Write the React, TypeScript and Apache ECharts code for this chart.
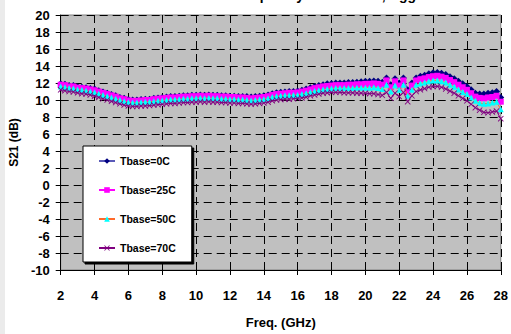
import React, { useEffect, useRef } from "react";
import * as echarts from "echarts";

const FREQ_GHZ = [
  2, 2.25, 2.5, 2.75, 3, 3.25, 3.5, 3.75, 4, 4.25, 4.5, 4.75, 5, 5.25, 5.5, 5.75,
  6, 6.25, 6.5, 6.75, 7, 7.25, 7.5, 7.75, 8, 8.25, 8.5, 8.75, 9, 9.25, 9.5, 9.75,
  10, 10.25, 10.5, 10.75, 11, 11.25, 11.5, 11.75, 12, 12.25, 12.5, 12.75, 13, 13.25, 13.5, 13.75,
  14, 14.25, 14.5, 14.75, 15, 15.25, 15.5, 15.75, 16, 16.25, 16.5, 16.75, 17, 17.25, 17.5, 17.75,
  18, 18.25, 18.5, 18.75, 19, 19.25, 19.5, 19.75, 20, 20.25, 20.5, 20.75, 21, 21.25, 21.5, 21.75,
  22, 22.25, 22.5, 22.75, 23, 23.25, 23.5, 23.75, 24, 24.25, 24.5, 24.75, 25, 25.25, 25.5, 25.75,
  26, 26.25, 26.5, 26.75, 27, 27.25, 27.5, 27.75, 28,
];

const S21_T0 = [
  11.9, 11.85, 11.7, 11.7, 11.55, 11.5, 11.45, 11.35, 11.3, 11.1, 10.95, 10.8, 10.65, 10.5, 10.3, 10.2,
  10.05, 10.0, 10.0, 10.05, 10.1, 10.1, 10.2, 10.25, 10.3, 10.35, 10.4, 10.4, 10.45, 10.5, 10.5, 10.55,
  10.55, 10.6, 10.55, 10.6, 10.55, 10.55, 10.5, 10.5, 10.45, 10.45, 10.4, 10.4, 10.4, 10.35, 10.4, 10.45,
  10.5, 10.6, 10.75, 10.85, 10.9, 10.95, 11.0, 11.0, 11.05, 11.15, 11.3, 11.45, 11.6, 11.7, 11.8, 11.9,
  11.95, 12.0, 12.0, 12.0, 12.05, 12.05, 12.1, 12.15, 12.2, 12.2, 12.25, 12.2, 12.1, 12.6, 11.8, 12.5,
  12.0, 12.6, 11.2, 12.0, 12.6, 12.8, 12.9, 13.1, 13.2, 13.25, 13.15, 13.0, 12.75, 12.5, 12.2, 11.9,
  11.6, 11.2, 10.8, 10.7, 10.7, 10.8, 10.85, 11.0, 10.3,
];

const S21_T25 = [
  11.8, 11.75, 11.6, 11.6, 11.45, 11.4, 11.35, 11.25, 11.15, 11.0, 10.85, 10.7, 10.55, 10.4, 10.2, 10.1,
  9.95, 9.9, 9.9, 9.95, 10.0, 10.0, 10.1, 10.15, 10.2, 10.25, 10.3, 10.3, 10.35, 10.4, 10.4, 10.45,
  10.45, 10.5, 10.45, 10.5, 10.45, 10.45, 10.4, 10.4, 10.35, 10.35, 10.3, 10.3, 10.25, 10.2, 10.25, 10.3,
  10.35, 10.45, 10.6, 10.7, 10.75, 10.8, 10.85, 10.85, 10.9, 11.0, 11.1, 11.25, 11.4, 11.5, 11.6, 11.65,
  11.7, 11.75, 11.75, 11.75, 11.8, 11.8, 11.85, 11.85, 11.9, 11.9, 11.95, 11.9, 11.8, 12.3, 11.5, 12.2,
  11.7, 12.3, 10.9, 11.7, 12.3, 12.45, 12.55, 12.7, 12.8, 12.85, 12.75, 12.6, 12.35, 12.1, 11.8, 11.5,
  11.2, 10.8, 10.4, 10.25, 10.2, 10.3, 10.35, 10.5, 9.8,
];

const S21_T50 = [
  11.6, 11.5, 11.4, 11.35, 11.25, 11.2, 11.1, 11.0, 10.9, 10.75, 10.6, 10.45, 10.3, 10.15, 10.0, 9.85,
  9.75, 9.7, 9.7, 9.75, 9.8, 9.8, 9.85, 9.9, 9.95, 10.0, 10.05, 10.05, 10.1, 10.15, 10.15, 10.2,
  10.2, 10.25, 10.2, 10.25, 10.2, 10.2, 10.15, 10.15, 10.1, 10.1, 10.05, 10.05, 10.0, 9.95, 10.0, 10.05,
  10.1, 10.2, 10.35, 10.45, 10.5, 10.55, 10.55, 10.6, 10.6, 10.7, 10.8, 10.95, 11.05, 11.15, 11.25, 11.3,
  11.35, 11.4, 11.4, 11.4, 11.4, 11.4, 11.45, 11.45, 11.45, 11.45, 11.5, 11.4, 11.3, 11.8, 11.0, 11.7,
  11.2, 11.8, 10.5, 11.2, 11.8, 11.95, 12.05, 12.2, 12.3, 12.3, 12.2, 12.05, 11.8, 11.55, 11.25, 10.95,
  10.7, 10.3, 9.9, 9.65, 9.55, 9.6, 9.7, 9.8, 8.9,
];

const S21_T70 = [
  11.2, 11.1, 11.0, 10.95, 10.85, 10.75, 10.7, 10.6, 10.45, 10.3, 10.15, 10.0, 9.85, 9.7, 9.55, 9.4,
  9.3, 9.25, 9.25, 9.3, 9.3, 9.35, 9.4, 9.45, 9.5, 9.55, 9.6, 9.6, 9.65, 9.7, 9.7, 9.75,
  9.75, 9.8, 9.75, 9.8, 9.75, 9.75, 9.7, 9.7, 9.65, 9.65, 9.6, 9.6, 9.55, 9.5, 9.55, 9.6,
  9.65, 9.75, 9.9, 10.0, 10.05, 10.1, 10.1, 10.15, 10.2, 10.25, 10.35, 10.5, 10.6, 10.7, 10.8, 10.85,
  10.9, 10.9, 10.9, 10.85, 10.85, 10.85, 10.8, 10.8, 10.8, 10.75, 10.75, 10.65, 10.55, 10.9, 10.2, 10.8,
  10.4, 10.9, 9.8, 10.5, 11.0, 11.2, 11.35, 11.5, 11.6, 11.6, 11.5, 11.3, 11.05, 10.8, 10.5, 10.2,
  9.9, 9.5, 9.1, 8.8, 8.55, 8.5, 8.6, 8.7, 7.8,
];

const SERIES_NAMES = ["Tbase=0C", "Tbase=25C", "Tbase=50C", "Tbase=70C"];
const TITLE_TEXT = "S21 vs. Frequency over Tbase, Vgg";
const X_AXIS_NAME = "Freq. (GHz)";
const Y_AXIS_NAME = "S21 (dB)";

const FONT = 'Arial, "Liberation Sans", sans-serif';
const X_MARK =
  "path://M0,1 L1,0 L5,4 L9,0 L10,1 L6,5 L10,9 L9,10 L5,6 L1,10 L0,9 L4,5 Z";

export default function App() {
  const ref = useRef<HTMLDivElement>(null);

  useEffect(() => {
    if (!ref.current) return;
    const chart = echarts.init(ref.current, undefined, { renderer: "svg" });
    const pairs = (vals: number[]) => FREQ_GHZ.map((f, i) => [f, vals[i]]);
    const styles = [
      { line: "#5a5ab8", item: "#000080", symbol: "diamond", size: 7 },
      { line: "#ff00ff", item: "#ff00ff", symbol: "rect", size: 6 },
      { line: "#ff6a2a", item: "#00ffff", symbol: "triangle", size: 6 },
      { line: "#800080", item: "#800080", symbol: X_MARK, size: 6 },
    ];
    const datas = [S21_T0, S21_T25, S21_T50, S21_T70];
    chart.setOption({
      animation: false,
      backgroundColor: "#ffffff",
      graphic: [
        { type: "rect", shape: { x: 0, y: 0, width: 5, height: 334 }, style: { fill: "#ebebeb" }, z: -10 },
        {
          type: "text",
          x: 416,
          y: 2,
          style: {
            text: TITLE_TEXT,
            font: `bold 14px ${FONT}`,
            fill: "#000",
            align: "right",
            verticalAlign: "bottom",
          },
        },
      ],
      grid: {
        left: 54,
        right: 8,
        top: 15,
        bottom: 59,
        show: true,
        backgroundColor: "#c0c0c0",
        borderColor: "#808080",
        borderWidth: 1,
      },
      legend: {
        orient: "vertical",
        left: 83,
        top: 146,
        data: SERIES_NAMES,
        backgroundColor: "#ffffff",
        borderColor: "#000000",
        borderWidth: 1,
        shadowColor: "#000000",
        shadowBlur: 0,
        shadowOffsetX: 2,
        shadowOffsetY: 2,
        padding: [9, 16, 8, 15],
        itemGap: 17,
        itemWidth: 16,
        itemHeight: 7,
        textStyle: { fontFamily: FONT, fontWeight: "bold", fontSize: 10.5, color: "#000", lineHeight: 12 },
      },
      xAxis: {
        type: "value",
        min: 2,
        max: 28,
        interval: 2,
        name: X_AXIS_NAME,
        nameLocation: "middle",
        nameGap: 46,
        nameTextStyle: { fontFamily: FONT, fontWeight: "bold", fontSize: 13, color: "#000" },
        axisLine: { show: true, onZero: false, lineStyle: { color: "#000", width: 1 } },
        axisTick: { show: true, inside: false, length: 5, lineStyle: { color: "#000" } },
        axisLabel: { margin: 19, fontFamily: FONT, fontWeight: "bold", fontSize: 13, color: "#000" },
        splitLine: { show: true, lineStyle: { color: "#000", type: [8, 5], width: 1 } },
      },
      yAxis: {
        type: "value",
        min: -10,
        max: 20,
        interval: 2,
        name: Y_AXIS_NAME,
        nameLocation: "middle",
        nameGap: 34,
        nameTextStyle: { fontFamily: FONT, fontWeight: "bold", fontSize: 12, color: "#000" },
        axisLine: { show: true, onZero: false, lineStyle: { color: "#000", width: 1 } },
        axisTick: { show: true, inside: false, length: 5, lineStyle: { color: "#000" } },
        axisLabel: { margin: 11, fontFamily: FONT, fontWeight: "bold", fontSize: 13, color: "#000" },
        splitLine: { show: true, lineStyle: { color: "#000", type: [8, 5], width: 1 } },
      },
      series: datas.map((d, i) => ({
        name: SERIES_NAMES[i],
        type: "line",
        data: pairs(d),
        symbol: styles[i].symbol,
        symbolSize: styles[i].size,
        showSymbol: true,
        lineStyle: { color: styles[i].line, width: 1 },
        itemStyle: { color: styles[i].item, borderWidth: 0 },
        z: 2 + i,
      })),
    });
    return () => chart.dispose();
  }, []);

  return (
    <div
      ref={ref}
      style={{ position: "fixed", left: 0, top: 0, width: 511, height: 334 }}
    />
  );
}
